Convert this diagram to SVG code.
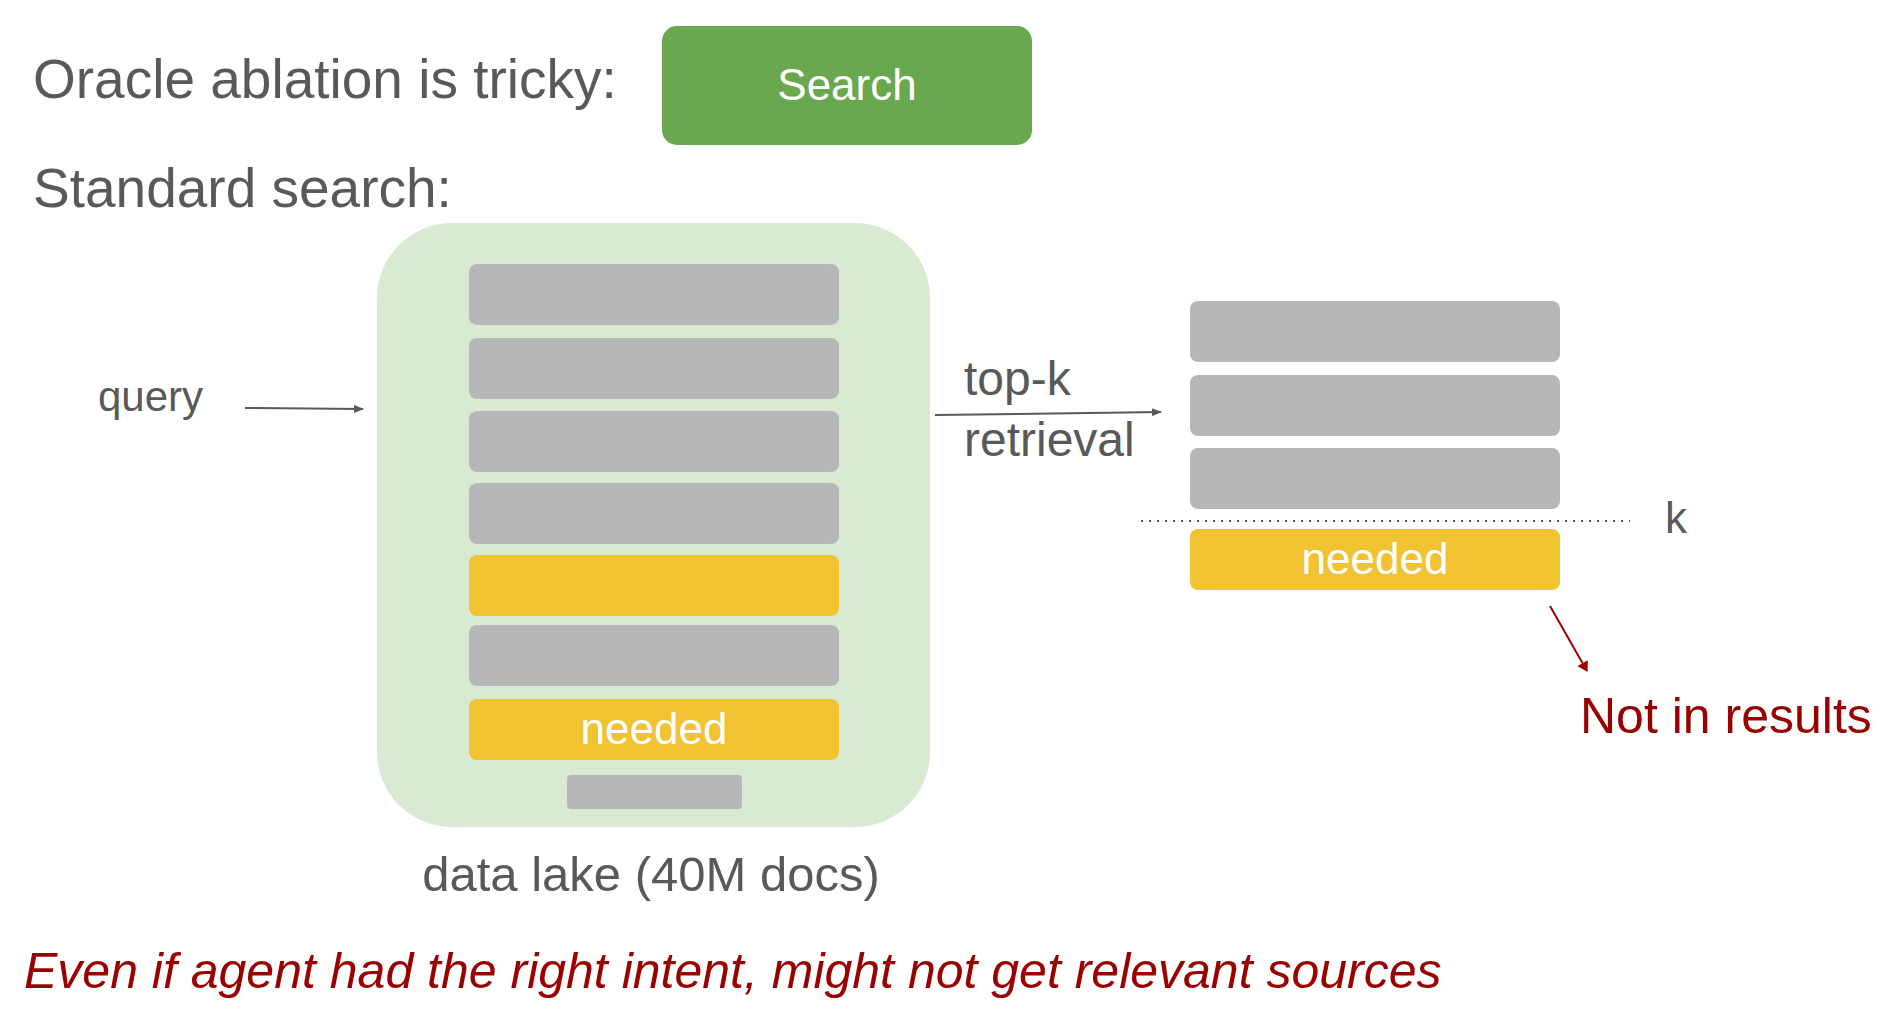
<svg xmlns="http://www.w3.org/2000/svg" width="1896" height="1027" viewBox="0 0 1896 1027">
<style>
text{font-family:"Liberation Sans",Arial,sans-serif;}
.t{fill:#595959;}
.g{fill:#b7b7b7;}
.y{fill:#f1c232;}
.w{fill:#ffffff;font-size:44px;text-anchor:middle;}
</style>
<defs>
<marker id="ag" markerWidth="10" markerHeight="8" refX="9" refY="4" orient="auto" markerUnits="userSpaceOnUse"><path d="M0,0 L10,4 L0,8 z" fill="#595959"/></marker>
<marker id="ar" markerWidth="10" markerHeight="12" refX="9" refY="6" orient="auto" markerUnits="userSpaceOnUse"><path d="M0,0 L10,6 L0,12 z" fill="#990000"/></marker>
</defs>
<rect width="1896" height="1027" fill="#fff"/>
<g transform="translate(-3,-2)">
<text class="t" x="36" y="100" font-size="55">Oracle ablation is tricky:</text>
<g id="search"><rect x="665" y="28" width="370" height="119" rx="15" fill="#6aa84f"/><text x="850" y="102" class="w">Search</text></g>
<text class="t" x="36" y="209" font-size="55">Standard search:</text>
<g id="datalake">
<rect x="380" y="225" width="553" height="604" rx="75" fill="#d9ead3"/>
<rect class="g" x="472" y="266" width="370" height="61" rx="8"/>
<rect class="g" x="472" y="340" width="370" height="61" rx="8"/>
<rect class="g" x="472" y="413" width="370" height="61" rx="8"/>
<rect class="g" x="472" y="485" width="370" height="61" rx="8"/>
<rect class="y" x="472" y="557" width="370" height="61" rx="8"/>
<rect class="g" x="472" y="627" width="370" height="61" rx="8"/>
<rect class="y" x="472" y="701" width="370" height="61" rx="8"/>
<text class="w" x="657" y="746">needed</text>
<rect class="g" x="570" y="777" width="175" height="34" rx="4"/>
<text class="t" x="654" y="893" font-size="49" text-anchor="middle">data lake (40M docs)</text>
</g>
<g id="results">
<rect class="g" x="1193" y="303" width="370" height="61" rx="8"/>
<rect class="g" x="1193" y="377" width="370" height="61" rx="8"/>
<rect class="g" x="1193" y="450" width="370" height="61" rx="8"/>
<rect class="y" x="1193" y="531" width="370" height="61" rx="8"/>
<text class="w" x="1378" y="576">needed</text>
</g>
<text class="t" x="101" y="413" font-size="42">query</text>
<text class="t" x="967" y="397" font-size="48">top-k</text>
<text class="t" x="967" y="458" font-size="48">retrieval</text>
<text class="t" x="1668" y="535" font-size="44">k</text>
<text x="1583" y="735" font-size="50" fill="#990000">Not in results</text>
<text x="27" y="990" font-size="50" font-style="italic" fill="#990000">Even if agent had the right intent, might not get relevant sources</text>
<g id="connectors" fill="none">
<line x1="248" y1="410" x2="366" y2="411" stroke="#595959" stroke-width="2" marker-end="url(#ag)"/>
<line x1="938" y1="417" x2="1164" y2="414" stroke="#595959" stroke-width="2" marker-end="url(#ag)"/>
<line x1="1144" y1="523" x2="1633" y2="523" stroke="#595959" stroke-width="2" stroke-dasharray="2,6"/>
<line x1="1553" y1="608" x2="1590" y2="673" stroke="#990000" stroke-width="2" marker-end="url(#ar)"/>
</g>
</g>
</svg>
